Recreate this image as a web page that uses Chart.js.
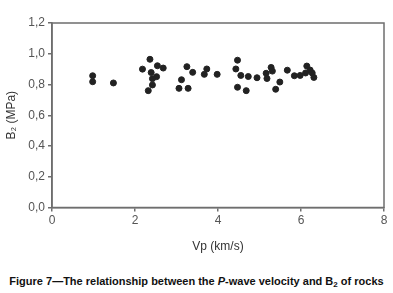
<!DOCTYPE html>
<html>
<head>
<meta charset="utf-8">
<script src="https://cdn.jsdelivr.net/npm/chart.js@4.4.0/dist/chart.umd.min.js"></script>
<style>
  body { margin: 0; background: #fff; }
  #wrap { position: relative; width: 393px; height: 293px; }
  #box { position: absolute; left: 0; top: 0; width: 393px; height: 262px; }
  #caption {
    position: absolute; left: 0; top: 275px; width: 393px; text-align: center;
    font: bold 11px "Liberation Sans", Arial, sans-serif; color: #111; white-space: nowrap;
  }
  #caption sub { font-size: 8px; vertical-align: -2px; line-height: 0; }
</style>
</head>
<body>
<div id="wrap">
  <div id="box"><canvas id="grafico"></canvas></div>
  <div id="caption">Figure 7—The relationship between the <i>P</i>-wave velocity and B<sub>2</sub> of rocks</div>
</div>
<script>
// Datos
const vp = [0.98, 0.98, 1.48, 2.18, 2.36, 2.54, 2.68, 2.39, 2.52, 2.42, 2.42, 2.32,
  3.25, 3.39, 3.12, 3.06, 3.28, 3.73, 3.67, 3.98,
  4.47, 4.43, 4.55, 4.73, 4.94, 5.16, 5.18, 5.28, 5.31, 5.49, 5.39, 4.47, 4.68,
  5.67, 5.84, 5.98, 6.14, 6.22, 6.11, 6.27, 6.31];
const b2 = [0.857, 0.818, 0.81, 0.90, 0.964, 0.922, 0.907, 0.878, 0.851, 0.838, 0.797, 0.760,
  0.916, 0.879, 0.831, 0.775, 0.775, 0.901, 0.866, 0.866,
  0.958, 0.901, 0.859, 0.852, 0.844, 0.873, 0.839, 0.911, 0.887, 0.816, 0.769, 0.782, 0.760,
  0.893, 0.857, 0.859, 0.920, 0.894, 0.875, 0.875, 0.846];
const xTicks = [0, 2, 4, 6, 8];
const yTicks = [0, 0.2, 0.4, 0.6, 0.8, 1.0, 1.2];

const axisColor = '#6e6e6e';
const tickFont = { family: 'Liberation Sans, Arial, sans-serif', size: 12 };

// Marco alrededor del area del grafico
const framePlugin = {
  id: 'frame',
  afterDraw(chart) {
    const { ctx, chartArea: a } = chart;
    ctx.save();
    ctx.strokeStyle = axisColor;
    ctx.lineWidth = 1.5;
    ctx.strokeRect(a.left, a.top, a.right - a.left, a.bottom - a.top);
    ctx.restore();
  }
};

const ctx = document.getElementById('grafico').getContext('2d');
new Chart(ctx, {
  type: 'scatter',
  data: {
    datasets: [{
      data: vp.map((v, i) => ({ x: v, y: b2[i] })),
      backgroundColor: '#222',
      borderColor: '#222',
      pointRadius: 3,
      pointHoverRadius: 3
    }]
  },
  options: {
    responsive: true,
    maintainAspectRatio: false,
    animation: false,
    layout: { padding: { top: 23, right: 9, left: 0, bottom: 0 } },
    plugins: { legend: { display: false }, tooltip: { enabled: false } },
    scales: {
      x: {
        min: 0, max: 8,
        afterBuildTicks: s => { s.ticks = xTicks.map(v => ({ value: v })); },
        afterFit: s => { s.height = 262 - 207.5; },
        grid: { drawOnChartArea: false, drawTicks: true, tickLength: 4, color: axisColor, lineWidth: 1.5 },
        border: { color: axisColor, width: 1.5 },
        ticks: { color: '#555', font: tickFont, padding: 2 },
        title: { display: true, text: 'Vp (km/s)', color: '#333', font: tickFont, padding: { top: 2, bottom: 8 } }
      },
      y: {
        min: 0, max: 1.2,
        afterBuildTicks: s => { s.ticks = yTicks.map(v => ({ value: v })); },
        afterFit: s => { s.width = 52; },
        grid: { drawOnChartArea: false, drawTicks: true, tickLength: 4, color: axisColor, lineWidth: 1.5 },
        border: { color: axisColor, width: 1.5 },
        ticks: { color: '#555', font: tickFont, padding: 3, callback: v => v.toFixed(1).replace('.', ',') },
        title: { display: true, text: 'B\u2082 (MPa)', color: '#333', font: tickFont, padding: { top: 4, bottom: 4 } }
      }
    }
  },
  plugins: [framePlugin]
});
</script>
</body>
</html>
